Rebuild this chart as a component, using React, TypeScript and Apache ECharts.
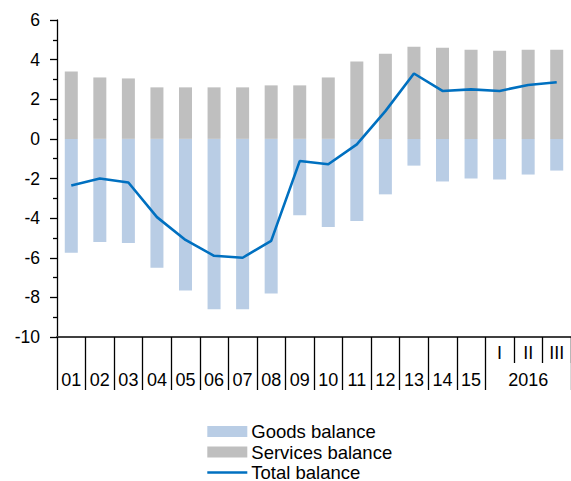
import React, { useEffect, useRef } from "react";
import * as echarts from "echarts";

const categories = ["01", "02", "03", "04", "05", "06", "07", "08", "09", "10", "11", "12", "13", "14", "15", "I", "II", "III"];
const yearLabel = "2016";
const goods = [-5.75, -5.2, -5.25, -6.5, -7.65, -8.6, -8.6, -7.8, -3.85, -4.45, -4.15, -2.8, -1.35, -2.15, -2.0, -2.05, -1.8, -1.6];
const services = [3.4, 3.1, 3.05, 2.6, 2.6, 2.6, 2.6, 2.7, 2.7, 3.1, 3.9, 4.3, 4.65, 4.6, 4.5, 4.45, 4.5, 4.5];
const total = [-2.35, -2.0, -2.2, -3.95, -5.1, -5.9, -6.0, -5.15, -1.12, -1.28, -0.28, 1.4, 3.3, 2.42, 2.5, 2.42, 2.72, 2.86];

const FONT = "Arial, 'Liberation Sans', sans-serif";
const NUM_YEARLY = 15;

export default function App() {
  const ref = useRef<HTMLDivElement>(null);
  useEffect(() => {
    if (!ref.current) return;
    const chart = echarts.init(ref.current, null, { renderer: "svg" });
    const baseX = {
      type: "category",
      data: categories,
      position: "bottom",
      boundaryGap: true,
      splitLine: { show: false },
    };
    const xLabel = { interval: 0, fontFamily: FONT, fontSize: 18, color: "#000" };
    chart.setOption({
      animation: false,
      backgroundColor: "#ffffff",
      grid: { left: 57, right: 0, top: 20, height: 317, containLabel: false },
      legend: {
        orient: "vertical",
        left: 206,
        top: 422,
        height: 80,
        padding: 0,
        itemWidth: 40,
        itemHeight: 11,
        itemGap: 1.5,
        textStyle: { fontFamily: FONT, fontSize: 18.5, lineHeight: 18, color: "#000", padding: [0, 0, 0, -1] },
        data: [
          { name: "Goods balance", icon: "rect" },
          { name: "Services balance", icon: "rect" },
          { name: "Total balance", itemStyle: { opacity: 0 }, lineStyle: { width: 2.6, color: "#0070C0" } },
        ],
      },
      xAxis: [
        {
          ...baseX,
          axisLine: { show: true, onZero: false, lineStyle: { color: "#404040", width: 2 } },
          axisTick: {
            show: true,
            length: 53,
            interval: (i: number) => i <= NUM_YEARLY,
            lineStyle: { color: "#000", width: 1.3 },
          },
          axisLabel: {
            ...xLabel,
            margin: 34,
            formatter: (v: string, i: number) => (i < NUM_YEARLY ? v : ""),
          },
        },
        {
          ...baseX,
          axisLine: { show: false, onZero: false },
          axisTick: {
            show: true,
            length: 26,
            interval: (i: number) => i > NUM_YEARLY,
            lineStyle: { color: "#000", width: 1.3 },
          },
          axisLabel: {
            ...xLabel,
            margin: 7,
            formatter: (v: string, i: number) => (i >= NUM_YEARLY ? v : ""),
          },
        },
        {
          ...baseX,
          axisLine: { show: false, onZero: false },
          axisTick: { show: false },
          axisLabel: {
            ...xLabel,
            margin: 34,
            formatter: (_v: string, i: number) => (i === NUM_YEARLY + 1 ? yearLabel : ""),
          },
        },
      ],
      yAxis: {
        type: "value",
        min: -10,
        max: 6,
        interval: 2,
        splitLine: { show: false },
        axisLine: { show: true, onZero: false, lineStyle: { color: "#000", width: 1.3 } },
        axisTick: { show: true, length: 7, lineStyle: { color: "#000", width: 1.3 } },
        minorTick: { show: true, splitNumber: 2, length: 4, lineStyle: { color: "#000", width: 1.3 } },
        axisLabel: { margin: 17, fontFamily: FONT, fontSize: 17.5, color: "#000" },
      },
      series: [
        {
          name: "Goods balance",
          type: "bar",
          data: goods,
          barWidth: 13,
          barGap: "-100%",
          itemStyle: { color: "#B9CDE5" },
        },
        {
          name: "Services balance",
          type: "bar",
          data: services,
          barWidth: 13,
          barGap: "-100%",
          itemStyle: { color: "#BFBFBF" },
        },
        {
          name: "Total balance",
          type: "line",
          data: total,
          symbol: "none",
          showSymbol: false,
          lineStyle: { color: "#0070C0", width: 2.6 },
          itemStyle: { color: "#0070C0" },
          z: 5,
        },
      ],
    });
    return () => chart.dispose();
  }, []);
  return (
    <div
      ref={ref}
      style={{ position: "absolute", left: 0, top: 0, width: 571, height: 481 }}
    />
  );
}
